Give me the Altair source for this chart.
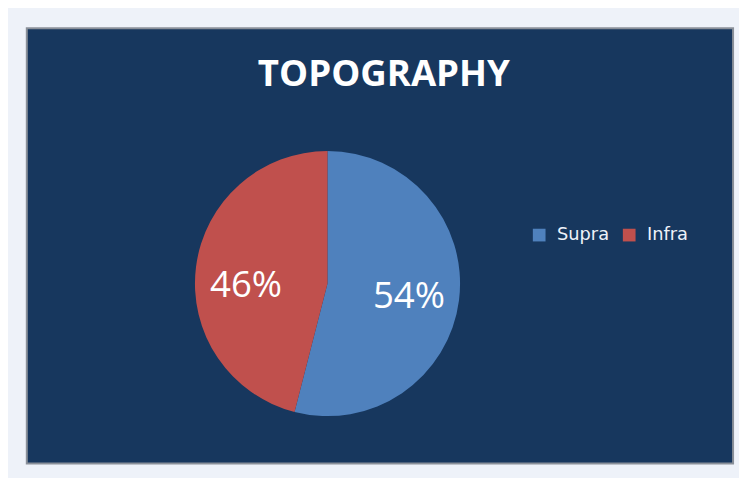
import altair as alt
import pandas as pd

categories = ["Supra", "Infra"]
values = [54, 46]
colors = ["#4f81bd", "#c0504d"]
title_text = "TOPOGRAPHY"

df = pd.DataFrame({"category": categories, "value": values, "idx": list(range(len(categories)))})

base = alt.Chart(df).encode(
    theta=alt.Theta("value:Q", stack=True),
    order=alt.Order("idx:Q"),
)

pie = base.mark_arc(outerRadius=134).encode(
    color=alt.Color(
        "category:N",
        scale=alt.Scale(domain=categories, range=colors),
        legend=alt.Legend(
            orient="none", legendX=509, legendY=200, direction="horizontal",
            title=None, symbolType="square", symbolSize=165, symbolStrokeWidth=0,
            symbolOpacity=1, labelColor="#eef2f9", labelFont="DejaVu Sans",
            labelFontSize=18, labelOffset=9, columnPadding=11, padding=0,
        ),
    ),
    x=alt.value(304),
    y=alt.value(258),
)

label_base = base.transform_calculate(
    label="format(datum.value, 'd') + '%'"
).mark_text(font="Open Sans", fontSize=37, color="#ffffff", radius=83)

# Excel's "best fit" placement: the smaller slice's label sits a little lower
label_supra = label_base.encode(
    text="label:N", x=alt.value(304), y=alt.value(261),
    opacity=alt.condition("datum.category == 'Supra'", alt.value(1), alt.value(0)),
)
label_infra = label_base.encode(
    text="label:N", x=alt.value(304), y=alt.value(271),
    opacity=alt.condition("datum.category == 'Infra'", alt.value(1), alt.value(0)),
)

title = alt.Chart(pd.DataFrame({"t": [title_text]})).mark_text(
    font="Open Sans", fontWeight="bold", fontSize=37, color="#ffffff", baseline="alphabetic"
).encode(text="t:N", x=alt.value(361), y=alt.value(58))

chart = alt.layer(pie, label_supra, label_infra, title).properties(
    width=714, height=440,
    autosize=alt.AutoSizeParams(type="none"),
    padding={"left": 19, "top": 18, "right": 6, "bottom": 12},
    background="#eef2f9",
).configure_view(fill="#17375e", stroke="#8a9099", strokeWidth=2)

chart.save("out.html", embed_options={"renderer": "svg", "actions": False})
